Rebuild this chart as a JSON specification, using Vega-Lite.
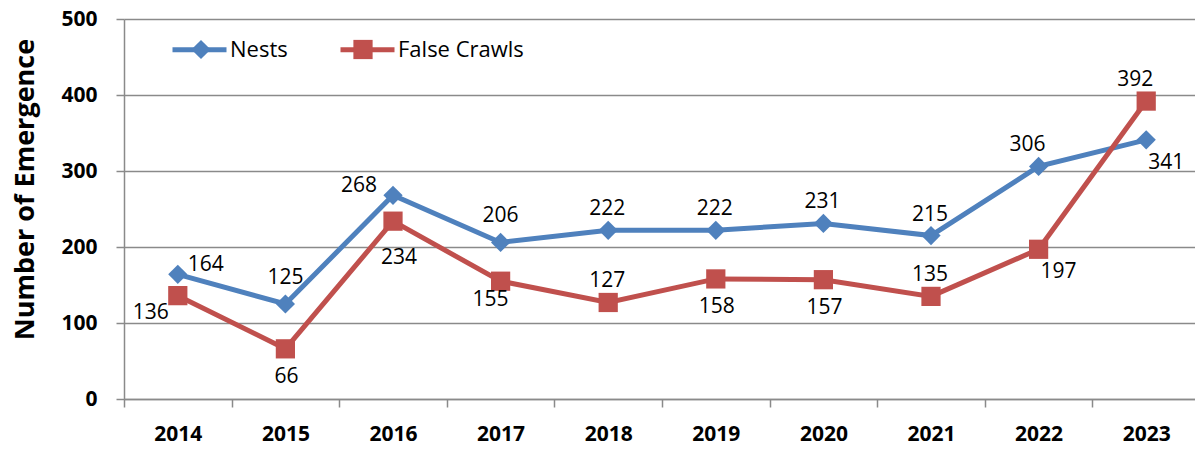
{
  "$schema": "https://vega.github.io/schema/vega-lite/v6.json",
  "width": 1076,
  "height": 380,
  "autosize": "none",
  "padding": {"left": 124, "top": 19, "right": 0, "bottom": 50},
  "background": "white",
  "config": {
    "view": {"stroke": null},
    "font": "Open Sans",
    "text": {"font": "Open Sans", "fontSize": 21, "color": "black", "align": "center", "baseline": "middle"}
  },
  "data": {
    "values": [
      {"year": "2014", "series": "Nests", "value": 164},
      {"year": "2015", "series": "Nests", "value": 125},
      {"year": "2016", "series": "Nests", "value": 268},
      {"year": "2017", "series": "Nests", "value": 206},
      {"year": "2018", "series": "Nests", "value": 222},
      {"year": "2019", "series": "Nests", "value": 222},
      {"year": "2020", "series": "Nests", "value": 231},
      {"year": "2021", "series": "Nests", "value": 215},
      {"year": "2022", "series": "Nests", "value": 306},
      {"year": "2023", "series": "Nests", "value": 341},
      {"year": "2014", "series": "False Crawls", "value": 136},
      {"year": "2015", "series": "False Crawls", "value": 66},
      {"year": "2016", "series": "False Crawls", "value": 234},
      {"year": "2017", "series": "False Crawls", "value": 155},
      {"year": "2018", "series": "False Crawls", "value": 127},
      {"year": "2019", "series": "False Crawls", "value": 158},
      {"year": "2020", "series": "False Crawls", "value": 157},
      {"year": "2021", "series": "False Crawls", "value": 135},
      {"year": "2022", "series": "False Crawls", "value": 197},
      {"year": "2023", "series": "False Crawls", "value": 392}
    ]
  },
  "encoding": {
    "x": {
      "field": "year",
      "type": "ordinal",
      "sort": null,
      "scale": {"type": "band", "paddingInner": 0, "paddingOuter": 0},
      "axis": {
        "title": null,
        "labelAngle": 0,
        "labelFont": "Open Sans",
        "labelFontSize": 21,
        "labelFontWeight": "bold",
        "labelColor": "black",
        "labelPadding": 16.5,
        "tickBand": "extent",
        "tickSize": 8,
        "tickColor": "#8a8a8a",
        "tickWidth": 1.5,
        "domainColor": "#8a8a8a",
        "domainWidth": 1.5,
        "grid": false
      }
    },
    "y": {
      "field": "value",
      "type": "quantitative",
      "scale": {"domain": [0, 500], "nice": false},
      "axis": {
        "title": "Number of Emergence",
        "titleFont": "Open Sans",
        "titleFontSize": 27,
        "titleFontWeight": "bold",
        "titleColor": "black",
        "titleX": -91,
        "titleY": 170,
        "titleBaseline": "alphabetic",
        "titleAlign": "center",
        "titleAngle": -90,
        "values": [0, 100, 200, 300, 400, 500],
        "labelFont": "Open Sans",
        "labelFontSize": 21,
        "labelFontWeight": "bold",
        "labelColor": "black",
        "labelPadding": 19,
        "tickSize": 8,
        "tickColor": "#8a8a8a",
        "tickWidth": 1.5,
        "domainColor": "#8a8a8a",
        "domainWidth": 1.5,
        "grid": true,
        "gridColor": "#8a8a8a",
        "gridWidth": 1.5
      }
    }
  },
  "layer": [
    {
      "mark": {"type": "line", "strokeWidth": 5},
      "encoding": {
        "color": {
          "field": "series",
          "type": "nominal",
          "sort": ["Nests", "False Crawls"],
          "scale": {"range": ["#4F81BD", "#C0504D"]},
          "legend": {
            "title": null,
            "orient": "none",
            "legendX": 46,
            "legendY": 1,
            "direction": "horizontal",
            "padding": 0,
            "labelFont": "Open Sans",
            "labelFontSize": 22,
            "labelColor": "black",
            "labelOffset": 1,
            "columnPadding": 42,
            "symbolType": "stroke",
            "symbolSize": 2916,
            "symbolStrokeWidth": 5,
            "symbolOpacity": 1
          }
        }
      }
    },
    {
      "mark": {"type": "point", "filled": true, "opacity": 1, "size": 370},
      "encoding": {
        "fill": {
          "field": "series",
          "type": "nominal",
          "scale": {"domain": ["Nests", "False Crawls"], "range": ["#4F81BD", "#C0504D"]},
          "legend": {
            "title": null,
            "orient": "none",
            "legendX": 66,
            "legendY": 19.5,
            "direction": "horizontal",
            "padding": 0,
            "labelExpr": "''",
            "labelFontSize": 22,
            "labelOffset": 0,
            "columnPadding": 140,
            "symbolSize": 370,
            "symbolStrokeWidth": 0,
            "symbolOpacity": 1
          }
        },
        "shape": {
          "field": "series",
          "type": "nominal",
          "scale": {"domain": ["Nests", "False Crawls"], "range": ["diamond", "square"]},
          "legend": {
            "title": null,
            "orient": "none",
            "legendX": 66,
            "legendY": 19.5,
            "direction": "horizontal",
            "padding": 0,
            "labelExpr": "''",
            "labelFontSize": 22,
            "labelOffset": 0,
            "columnPadding": 140,
            "symbolSize": 370,
            "symbolStrokeWidth": 0,
            "symbolOpacity": 1
          }
        }
      }
    },
    {
      "transform": [{"filter": "indexof(['Nests|2018','Nests|2019','Nests|2020','Nests|2021','False Crawls|2018','False Crawls|2021'], datum.series + '|' + datum.year) >= 0"}],
      "mark": {"type": "text", "dx": -1, "dy": -21},
      "encoding": {"text": {"field": "value", "type": "quantitative"}}
    },
    {
      "transform": [{"filter": "indexof(['Nests|2015','Nests|2017'], datum.series + '|' + datum.year) >= 0"}],
      "mark": {"type": "text", "dx": 0, "dy": -26},
      "encoding": {"text": {"field": "value", "type": "quantitative"}}
    },
    {
      "transform": [{"filter": "indexof(['Nests|2022','False Crawls|2023'], datum.series + '|' + datum.year) >= 0"}],
      "mark": {"type": "text", "dx": -11, "dy": -21},
      "encoding": {"text": {"field": "value", "type": "quantitative"}}
    },
    {
      "transform": [{"filter": "indexof(['False Crawls|2015','False Crawls|2019','False Crawls|2020'], datum.series + '|' + datum.year) >= 0"}],
      "mark": {"type": "text", "dx": 1, "dy": 28.5},
      "encoding": {"text": {"field": "value", "type": "quantitative"}}
    },
    {
      "transform": [{"filter": "datum.series === 'False Crawls' && datum.year === '2016'"}],
      "mark": {"type": "text", "dx": 6, "dy": 37},
      "encoding": {"text": {"field": "value", "type": "quantitative"}}
    },
    {
      "transform": [{"filter": "datum.series === 'False Crawls' && datum.year === '2017'"}],
      "mark": {"type": "text", "dx": -10, "dy": 19},
      "encoding": {"text": {"field": "value", "type": "quantitative"}}
    },
    {
      "transform": [{"filter": "datum.series === 'False Crawls' && datum.year === '2014'"}],
      "mark": {"type": "text", "dx": -27, "dy": 17},
      "encoding": {"text": {"field": "value", "type": "quantitative"}}
    },
    {
      "transform": [{"filter": "datum.series === 'Nests' && datum.year === '2014'"}],
      "mark": {"type": "text", "dx": 28, "dy": -9},
      "encoding": {"text": {"field": "value", "type": "quantitative"}}
    },
    {
      "transform": [{"filter": "datum.series === 'Nests' && datum.year === '2016'"}],
      "mark": {"type": "text", "dx": -34, "dy": -9},
      "encoding": {"text": {"field": "value", "type": "quantitative"}}
    },
    {
      "transform": [{"filter": "indexof(['Nests|2023','False Crawls|2022'], datum.series + '|' + datum.year) >= 0"}],
      "mark": {"type": "text", "dx": 20, "dy": 23},
      "encoding": {"text": {"field": "value", "type": "quantitative"}}
    }
  ]
}
